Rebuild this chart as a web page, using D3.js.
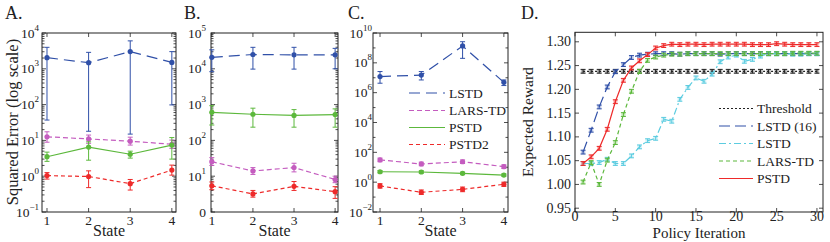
<!DOCTYPE html>
<html>
<head>
<meta charset="utf-8">
<script src="https://cdn.jsdelivr.net/npm/d3@7"></script>
<style>
  body { margin: 0; background: #fff; }
</style>
</head>
<body>
<svg id="chart" width="830" height="242"></svg>
<script>
// ---- data: each entry is [mean, low, high] ----
var states = [1, 2, 3, 4];
var seriesNames = ["LSTD", "LARS-TD", "PSTD", "PSTD2"];

// panel A
var aLSTD  = [[2040, 37, 3980], [1480, 18, 2880], [3020, 15, 6030], [1510, 98, 3020]];
var aLARS  = [[12.6, 8.9, 17.4], [11, 8.3, 14.1], [9.5, 7.4, 12.3], [7.8, 6.0, 10.2]];
var aPSTD  = [[3.5, 2.6, 4.7], [6.5, 2.8, 9.1], [4.1, 3.2, 5.0], [7.4, 3.0, 12]];
var aPSTD2 = [[1.04, 0.83, 1.26], [0.98, 0.48, 1.41], [0.62, 0.41, 0.81], [1.48, 1.07, 2.04]];

// panel B
var bLSTD  = [[20900, 8300, 33900], [25100, 9800, 39800], [24500, 9800, 39800], [24500, 10000, 37200]];
var bLARS  = [[25.4, 20, 33], [14, 11.2, 17.4], [17.4, 13.2, 23], [8.1, 6.6, 10]];
var bPSTD  = [[610, 269, 933], [537, 234, 794], [500, 234, 724], [525, 234, 759]];
var bPSTD2 = [[5.4, 4.2, 6.9], [3.2, 2.6, 4.0], [5.2, 4.0, 7.1], [3.7, 2.4, 5.1]];

// panel C
var cLSTD  = [[1.2e7, 4.3e6, 2.6e7], [1.5e7, 7.1e6, 2.6e7], [1.35e9, 2.0e8, 2.6e9], [4.9e6, 3.0e6, 7.1e6]];
var cLARS  = [[31, 23.5, 41], [16.6, 12.6, 22], [23.4, 17.8, 31], [11, 8.3, 14.5]];
var cPSTD  = [[5.0, 4.2, 6.0], [4.8, 4.0, 5.8], [3.9, 3.2, 4.7], [3.0, 2.5, 3.6]];
var cPSTD2 = [[0.56, 0.40, 0.79], [0.21, 0.15, 0.30], [0.33, 0.23, 0.47], [0.72, 0.52, 1.0]];

// panel D
var iterations = d3.range(1, 31);
var policyNames = ["Threshold", "LSTD (16)", "LSTD", "LARS-TD", "PSTD"];
var threshold = [1.238, 1.238, 1.238, 1.238, 1.238, 1.238, 1.238, 1.238, 1.238, 1.238,
                 1.238, 1.238, 1.238, 1.238, 1.238, 1.238, 1.238, 1.238, 1.238, 1.238,
                 1.238, 1.238, 1.238, 1.238, 1.238, 1.238, 1.238, 1.238, 1.238, 1.238];
var lstd16 = [1.068, 1.114, 1.163, 1.205, 1.237, 1.252, 1.267, 1.272, 1.274, 1.275,
              1.275, 1.275, 1.274, 1.275, 1.275, 1.275, 1.275, 1.274, 1.275, 1.275,
              1.275, 1.275, 1.275, 1.275, 1.275, 1.275, 1.275, 1.275, 1.275, 1.275];
var lstd   = [1.044, 1.044, 1.046, 1.053, 1.044, 1.044, 1.060, 1.079, 1.092, 1.097,
              1.137, 1.133, 1.179, 1.204, 1.224, 1.217, 1.232, 1.258, 1.268, 1.272,
              1.259, 1.263, 1.270, 1.275, 1.275, 1.275, 1.274, 1.274, 1.275, 1.275];
var larstd = [1.005, 1.046, 1.000, 1.051, 1.088, 1.147, 1.196, 1.238, 1.261, 1.268,
              1.272, 1.274, 1.274, 1.275, 1.275, 1.275, 1.275, 1.275, 1.275, 1.275,
              1.275, 1.275, 1.275, 1.275, 1.275, 1.275, 1.276, 1.276, 1.276, 1.276];
var pstd   = [1.044, 1.058, 1.076, 1.116, 1.174, 1.219, 1.245, 1.260, 1.273, 1.287,
              1.292, 1.295, 1.294, 1.295, 1.295, 1.294, 1.295, 1.295, 1.295, 1.295,
              1.295, 1.294, 1.294, 1.294, 1.296, 1.295, 1.294, 1.294, 1.294, 1.294];
var policyErr = 0.004;

// ---- styles ----
var FONT = "'Liberation Serif', 'Times New Roman', Times, 'DejaVu Serif', serif";
var sStyle = [
  { color: "#3050a8", dash: "11,6" },
  { color: "#c45cbf", dash: "5,3" },
  { color: "#5cb83c", dash: null },
  { color: "#ee2a2a", dash: "4,3" }
];
var pStyle = [
  { color: "#222222", dash: "2,2" },
  { color: "#3050a8", dash: "11,5" },
  { color: "#5ccce0", dash: "7,3,2,3" },
  { color: "#5cb83c", dash: "4,3" },
  { color: "#ee2a2a", dash: null }
];

var svg = d3.select("#chart");

function txt(sel, size) {
  return sel.append("text").style("font-family", FONT).style("font-size", size + "px")
    .attr("fill", "#222");
}

function supLabel(sel, xEnd, yPos, exp, baseText) {
  var t = txt(sel, 13.5).attr("x", xEnd).attr("y", yPos + 4.5).attr("text-anchor", "end");
  if (baseText !== undefined) { t.text(baseText); return; }
  t.append("tspan").text("10");
  t.append("tspan").attr("dy", -7).style("font-size", "9px")
    .text(exp < 0 ? "\u2212" + (-exp) : exp);
}

function boxTicks(g, x, y, left, right, top, bottom, xTicks, yTicks, yMinor) {
  g.append("rect")
    .attr("x", left).attr("y", top)
    .attr("width", right - left).attr("height", bottom - top)
    .attr("fill", "none").attr("stroke", "#222").attr("stroke-width", 1);
  var tk = g.append("g").attr("stroke", "#222").attr("stroke-width", 0.8);
  xTicks.forEach(function(v) {
    tk.append("line").attr("x1", x(v)).attr("x2", x(v)).attr("y1", bottom).attr("y2", bottom - 4);
    tk.append("line").attr("x1", x(v)).attr("x2", x(v)).attr("y1", top).attr("y2", top + 4);
  });
  yTicks.forEach(function(v) {
    tk.append("line").attr("x1", left).attr("x2", left + 4).attr("y1", y(v)).attr("y2", y(v));
    tk.append("line").attr("x1", right).attr("x2", right - 4).attr("y1", y(v)).attr("y2", y(v));
  });
  (yMinor || []).forEach(function(v) {
    tk.append("line").attr("x1", left).attr("x2", left + 2.5).attr("y1", y(v)).attr("y2", y(v));
    tk.append("line").attr("x1", right).attr("x2", right - 2.5).attr("y1", y(v)).attr("y2", y(v));
  });
}

function drawErr(g, xs, y0, y1, color, cap) {
  g.append("line").attr("x1", xs).attr("x2", xs).attr("y1", y0).attr("y2", y1)
    .attr("stroke", color).attr("stroke-width", 1);
  [y0, y1].forEach(function(yy) {
    g.append("line").attr("x1", xs - cap).attr("x2", xs + cap).attr("y1", yy).attr("y2", yy)
      .attr("stroke", color).attr("stroke-width", 1);
  });
}

function logPanel(opt) {
  var x = d3.scaleLinear().domain(opt.xDomain).range([opt.left, opt.right]);
  var y = d3.scaleLog().domain(opt.yDomain).range([opt.bottom, opt.top]);
  var g = svg.append("g");

  var lo = Math.round(Math.log10(opt.yDomain[0])), hi = Math.round(Math.log10(opt.yDomain[1]));
  var major = [], minor = [];
  for (var e = lo; e <= hi; e++) {
    if ((e - lo) % opt.step === 0) major.push(Math.pow(10, e));
    else minor.push(Math.pow(10, e));
    if (opt.step === 1 && e < hi) for (var m = 2; m < 10; m++) minor.push(m * Math.pow(10, e));
  }
  boxTicks(g, x, y, opt.left, opt.right, opt.top, opt.bottom, states, major, minor);

  major.forEach(function(v) {
    var ex = Math.round(Math.log10(v));
    supLabel(g, opt.left - opt.labelGap, y(v), ex, opt.zeroText && ex === 0 ? "0" : undefined);
  });
  states.forEach(function(s) {
    txt(g, 13.5).attr("x", x(s)).attr("y", 225).attr("text-anchor", "middle").text(s);
  });
  txt(g, 16).attr("x", (opt.left + opt.right) / 2).attr("y", 236)
    .attr("text-anchor", "middle").text("State");
  txt(g, 18).attr("x", opt.letterX).attr("y", 19).text(opt.letter);

  var line = d3.line().x(function(d, i) { return x(states[i]); }).y(function(d) { return y(d[0]); });
  opt.series.forEach(function(s, k) {
    var st = sStyle[k];
    g.append("path").datum(s).attr("d", line)
      .attr("fill", "none").attr("stroke", st.color).attr("stroke-width", 1.2)
      .attr("stroke-dasharray", st.dash);
    s.forEach(function(d, i) {
      drawErr(g, x(states[i]), y(d[1]), y(d[2]), st.color, 2.5);
      g.append("circle").attr("cx", x(states[i])).attr("cy", y(d[0])).attr("r", 2.6)
        .attr("fill", st.color);
    });
  });
  return g;
}

logPanel({ letter: "A.", letterX: 5, left: 42, right: 176, top: 33, bottom: 212,
  xDomain: [0.88, 4.1], yDomain: [1e-1, 1e4], step: 1, labelGap: 3,
  series: [aLSTD, aLARS, aPSTD, aPSTD2] });
logPanel({ letter: "B.", letterX: 184, left: 211, right: 338, top: 33, bottom: 212,
  xDomain: [0.98, 4.07], yDomain: [1e0, 1e5], step: 1, labelGap: 5, zeroText: true,
  series: [bLSTD, bLARS, bPSTD, bPSTD2] });
var gC = logPanel({ letter: "C.", letterX: 348, left: 373, right: 508, top: 33, bottom: 212,
  xDomain: [0.83, 4.1], yDomain: [1e-2, 1e10], step: 2, labelGap: 1,
  series: [cLSTD, cLARS, cPSTD, cPSTD2] });

// y label of A
txt(svg, 16.5)
  .attr("transform", "translate(18,122) rotate(-90)")
  .attr("text-anchor", "middle")
  .text("Squared Error (log scale)");

// legend C
var legCY = [93, 110.5, 127.5, 144.5];
seriesNames.forEach(function(n, k) {
  gC.append("line").attr("x1", 409).attr("x2", 445).attr("y1", legCY[k]).attr("y2", legCY[k])
    .attr("stroke", sStyle[k].color).attr("stroke-width", 1.2)
    .attr("stroke-dasharray", sStyle[k].dash);
  txt(gC, 13.5).attr("x", 449).attr("y", legCY[k] + 4.5).text(n);
});

// ---- panel D ----
(function() {
  var left = 575, right = 823, top = 32.3, bottom = 212;
  var x = d3.scaleLinear().domain([0, 30.75]).range([left, right]);
  var y = d3.scaleLinear().domain([0.942, 1.32]).range([bottom, top]);
  var g = svg.append("g");
  var xt = [0, 5, 10, 15, 20, 25, 30];
  var yt = [0.95, 1.0, 1.05, 1.1, 1.15, 1.2, 1.25, 1.3];
  boxTicks(g, x, y, left, right, top, bottom, xt, yt, []);
  xt.forEach(function(v) {
    txt(g, 14).attr("x", x(v)).attr("y", 221).attr("text-anchor", "middle").text(v);
  });
  yt.forEach(function(v) {
    txt(g, 14).attr("x", left - 4).attr("y", y(v) + 4.5).attr("text-anchor", "end")
      .text(d3.format(".2f")(v));
  });
  txt(g, 15).attr("x", (left + right) / 2).attr("y", 238).attr("text-anchor", "middle")
    .text("Policy Iteration");
  txt(g, 15.5).attr("transform", "translate(533,122) rotate(-90)")
    .attr("text-anchor", "middle").text("Expected Reward");
  txt(g, 18).attr("x", 521).attr("y", 19).text("D.");

  var series = [threshold, lstd16, lstd, larstd, pstd];
  var line = d3.line().x(function(d, i) { return x(iterations[i]); }).y(function(d) { return y(d); });
  series.forEach(function(s, k) {
    var st = pStyle[k];
    g.append("path").datum(s).attr("d", line)
      .attr("fill", "none").attr("stroke", st.color).attr("stroke-width", 1.2)
      .attr("stroke-dasharray", st.dash);
    s.forEach(function(v, i) {
      g.append("rect").attr("x", x(iterations[i]) - 2.2).attr("y", y(v) - 2.2)
        .attr("width", 4.4).attr("height", 4.4).attr("fill", st.color).attr("opacity", 0.3);
      drawErr(g, x(iterations[i]), y(v - policyErr), y(v + policyErr), st.color, 2.5);
    });
  });

  var legY = [108.5, 126, 143.5, 161, 178.5];
  policyNames.forEach(function(n, k) {
    g.append("line").attr("x1", 719).attr("x2", 753).attr("y1", legY[k]).attr("y2", legY[k])
      .attr("stroke", pStyle[k].color).attr("stroke-width", 1.2)
      .attr("stroke-dasharray", pStyle[k].dash);
    txt(g, 13.5).attr("x", 757).attr("y", legY[k] + 4.5).text(n);
  });
})();
</script>
</body>
</html>
